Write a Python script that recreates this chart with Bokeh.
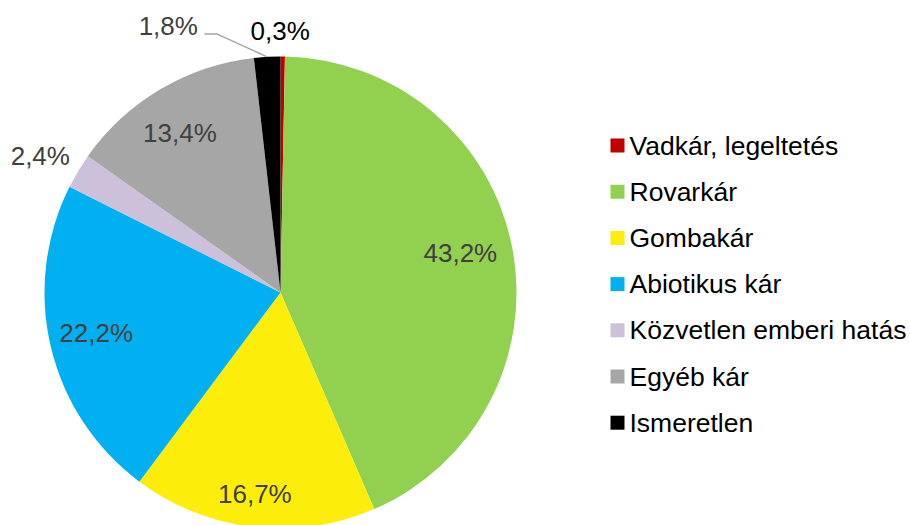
import math
from bokeh.plotting import figure
from bokeh.models import Range1d
from bokeh.core.properties import value
from bokeh.embed import file_html
from bokeh.resources import INLINE

# ---- data ----
categories = ["Vadkár, legeltetés", "Rovarkár", "Gombakár", "Abiotikus kár",
              "Közvetlen emberi hatás", "Egyéb kár", "Ismeretlen"]
values = [0.3, 43.2, 16.7, 22.2, 2.4, 13.4, 1.8]
colors = ["#C00000", "#92D050", "#FCEE0A", "#00B0F0", "#CCC0DA", "#A6A6A6", "#000000"]

# ---- layout (label radius factor, angular shift in degrees) ----
label_layout = [(1.11, -0.6), (0.78, -1.1), (0.86, 0.6), (0.80, 0.8),
                (1.17, -1.4), (0.80, -1.6), (1.225, -19.6)]
label_colors = ["#000000", "#404040", "#404040", "#404040", "#404040", "#404040", "#404040"]
leader_index = 6  # slice whose label has a leader line

W, H = 910, 525
CX, CY, R = 280, -292, 236
FONT = value("Liberation Sans")

p = figure(width=W, height=H, x_range=Range1d(0, W), y_range=Range1d(-H, 0),
           output_backend="svg", toolbar_location=None, min_border=0)
p.axis.visible = False
p.grid.visible = False
p.outline_line_color = None
p.background_fill_color = "white"
p.border_fill_color = "white"

total = sum(values)
starts, ends, mids = [], [], []
cum = 0.0
for v in values:
    a0 = math.pi / 2 - 2 * math.pi * cum / total
    cum += v
    a1 = math.pi / 2 - 2 * math.pi * cum / total
    starts.append(a0)
    ends.append(a1)
    mids.append((a0 + a1) / 2)

p.wedge(x=[CX] * len(values), y=[CY] * len(values), radius=R,
        start_angle=starts, end_angle=ends, direction="clock",
        fill_color=colors, line_color=None)

# data labels
label_texts = [f"{v:.1f}".replace(".", ",") + "%" for v in values]
lx, ly = [], []
for m, (f, shift) in zip(mids, label_layout):
    a = m - math.radians(shift)
    lx.append(CX + f * R * math.cos(a))
    ly.append(CY + f * R * math.sin(a))

p.text(x=lx, y=ly, text=label_texts, text_font=FONT, text_font_size=value("26px"),
       text_color=label_colors, text_align="center", text_baseline="middle")

# leader line for the small slice
i = leader_index
ex = CX + R * math.cos(mids[i])
ey = CY + R * math.sin(mids[i])
sx = lx[i] + 36
sy = ly[i] - 8
p.line(x=[sx, sx + 13, ex], y=[sy, sy, ey], line_color="#A6A6A6", line_width=1.5)

# legend
LEG_X, LEG_Y0, LEG_DY, SQ = 617, 145, 46.2, 14
leg_y = [-(LEG_Y0 + k * LEG_DY) for k in range(len(categories))]
p.rect(x=[LEG_X] * len(categories), y=leg_y, width=SQ, height=SQ,
       fill_color=colors, line_color=None)
p.text(x=[LEG_X + 12] * len(categories), y=leg_y, text=categories, text_font=FONT,
       text_font_size=value("26.5px"), text_color="#000000", text_align="left",
       text_baseline="middle")

open("out.html", "w").write(file_html(p, INLINE))
